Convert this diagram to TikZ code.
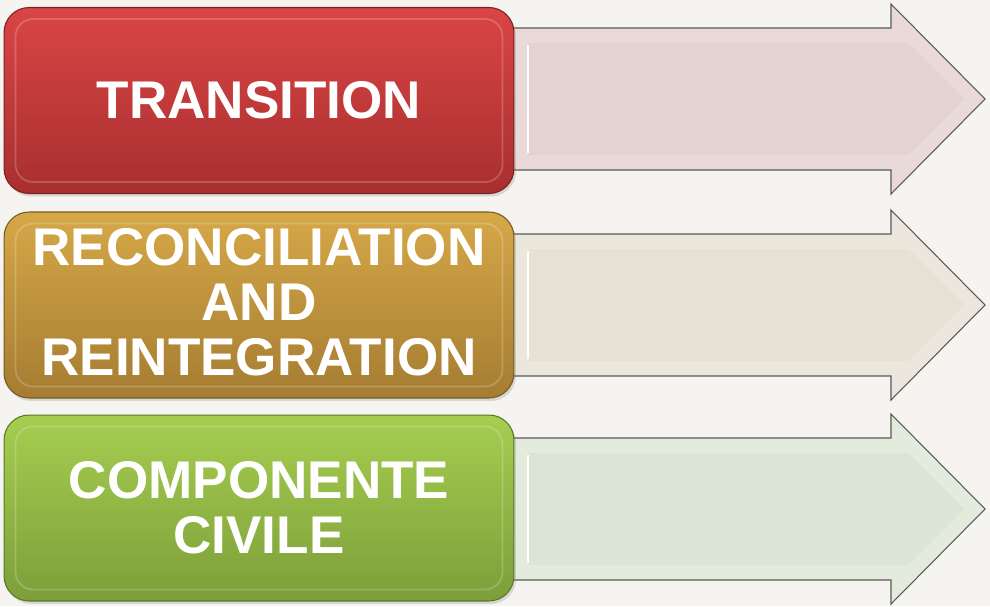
\documentclass[tikz,border=0pt]{standalone}
\usepackage{fontspec}
\setmainfont{Liberation Sans}
\usetikzlibrary{calc,shadows}

\definecolor{redtop}{HTML}{DA4545}
\definecolor{redbot}{HTML}{A82F2F}
\definecolor{redline}{HTML}{7A2222}
\definecolor{goldtop}{HTML}{D6A848}
\definecolor{goldbot}{HTML}{A57C32}
\definecolor{goldline}{HTML}{765A22}
\definecolor{greentop}{HTML}{A6CE50}
\definecolor{greenbot}{HTML}{7D9E3A}
\definecolor{greenline}{HTML}{587828}
\definecolor{redband}{HTML}{E9D9D9}
\definecolor{redbody}{HTML}{E4D1D1}
\definecolor{goldband}{HTML}{ECE7DD}
\definecolor{goldbody}{HTML}{E7E1D5}
\definecolor{greenband}{HTML}{E3EBDD}
\definecolor{greenbody}{HTML}{DCE5D5}
\definecolor{paper}{HTML}{F5F4F0}

\tikzset{
  stagebox/.style={draw=#1line, line width=0.6pt, rounded corners=0.5cm,
    top color=#1top, bottom color=#1bot, minimum width=10.2cm, minimum height=3.72cm,
    align=center, text=white, font=\bfseries\fontsize{30.2pt}{31.3pt}\selectfont,
    drop shadow={opacity=0.25, shadow xshift=0.4mm, shadow yshift=-0.6mm}},
  arrowline/.style={draw=black!65, line width=0.6pt},
}
\newcommand{\bandarrow}[2]{%
  \draw[arrowline, fill=#2band] (505,#1-71) -- (891,#1-71) -- (891,#1-95) -- (985,#1)
    -- (891,#1+95) -- (891,#1+71) -- (505,#1+71) -- cycle;
  \fill[#2body] (528,#1-56) -- (908,#1-56) -- (964,#1) -- (908,#1+56) -- (528,#1+56) -- cycle;
  \draw[white, line width=1.2pt] (528,#1-54) -- (528,#1+54);
}
\newcommand{\rim}[1]{\draw[white, opacity=0.2, line width=1pt, rounded corners=0.35cm]
  ($(#1.north west)+(12,12)$) rectangle ($(#1.south east)+(-12,-12)$);}

\begin{document}
\begin{tikzpicture}[x=0.02cm, y=-0.02cm]
\useasboundingbox (0,0) rectangle (990,606);
\fill[paper] (0,0) rectangle (990,606);

% arrows
\bandarrow{99}{red}
\bandarrow{305}{gold}
\bandarrow{509}{green}

% transition
\node[stagebox=red] (trans) at (259,100.5) {TRANSITION};
\rim{trans}

% reconciliation
\node[stagebox=gold, text depth=3.5pt] (recon) at (259,305) {RECONCILIATION\\AND\\REINTEGRATION};
\rim{recon}

% componente civile
\node[stagebox=green] (civil) at (259,508) {COMPONENTE\\CIVILE};
\rim{civil}
\end{tikzpicture}
\end{document}
